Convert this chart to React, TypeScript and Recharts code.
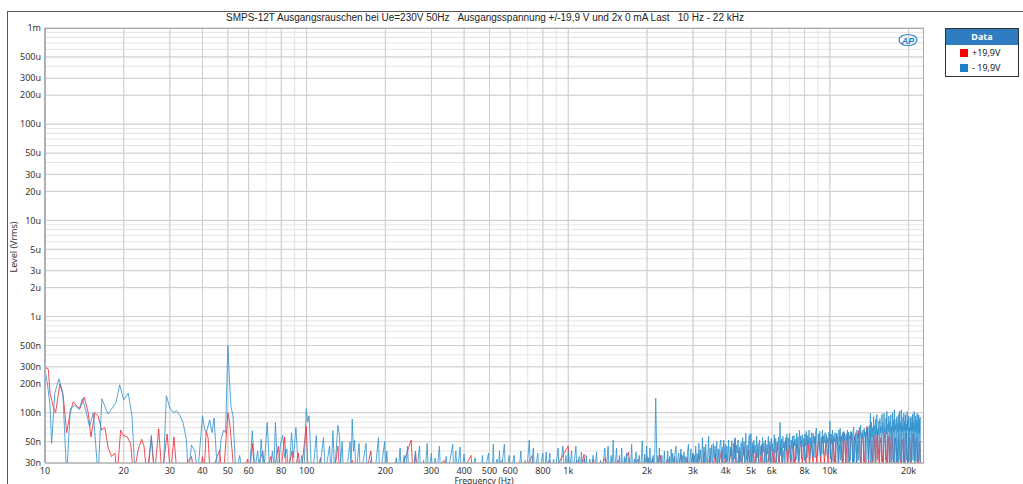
import { LineChart, Line, XAxis, YAxis, CartesianGrid } from "recharts";

// frequency (Hz), level (nV); values < 30 sit below the axis floor
const blueLow: [number, number][] = [
  [10.0, 280], [10.2, 205], [10.45, 120], [10.6, 48], [10.9, 160], [11.3, 225], [11.7, 160], [12.1, 22],
  [12.5, 110], [13.0, 120], [13.5, 108], [13.9, 140], [14.4, 100], [14.8, 72], [15.3, 100], [15.95, 22],
  [16.5, 140], [16.9, 118], [17.4, 97], [18.0, 110], [18.7, 128], [19.3, 195], [20.0, 136], [20.8, 160],
  [21.5, 93], [22.1, 22], [24.8, 24], [25.5, 58], [26.2, 24], [28.3, 22], [29.1, 150], [30.0, 112],
  [31.0, 100], [31.8, 105], [32.8, 93], [33.7, 79], [34.7, 53], [35.3, 22], [36.3, 46], [37.4, 40],
  [38.3, 22], [40.0, 93], [40.8, 66], [41.5, 64], [42.6, 84], [43.5, 62], [44.3, 88], [45.2, 35],
  [45.8, 22], [47.1, 53], [48.2, 66], [49.0, 62], [50.0, 500], [50.8, 200], [51.4, 115], [52.3, 93],
  [53.0, 45], [53.6, 22], [55.5, 36], [56.8, 22], [59.0, 28], [60.3, 22], [62.0, 65], [63.4, 26],
  [65.0, 40], [66.0, 22], [67.0, 53], [68.6, 24], [70.7, 79], [72.4, 22], [74.0, 40], [75.0, 28],
  [76.0, 79], [77.6, 22], [79.5, 48], [81.0, 58], [82.5, 34], [84.0, 42], [85.5, 22], [87.6, 62],
  [89.0, 34], [91.0, 70], [93.3, 22], [96.0, 36], [97.6, 22], [99.7, 110], [101.0, 80], [102.2, 93],
  [103.4, 45], [104.4, 22],
];

const blueMid: [number, number][] = [
  [106, 26], [108.9, 58], [110.5, 22], [113, 30], [116, 55], [118, 22], [120, 32], [122.4, 45], [124, 22],
  [126, 65], [128, 24], [131.7, 74], [133.5, 58], [135, 30], [136.7, 50], [138.5, 22], [143, 28],
  [146.6, 50], [147.8, 24], [149.4, 86], [151, 40], [152.5, 52], [154.5, 22], [158.7, 48], [160.5, 22],
  [164, 30], [168.7, 48], [170.5, 22], [176, 32], [178, 22], [183, 26], [188.3, 55], [190, 22], [194, 30],
  [198.7, 50], [200.5, 24], [202.6, 40], [205, 22], [212, 30], [215, 22], [220, 34], [223, 22],
  [227.7, 43], [230, 22], [236, 36], [239, 22], [243, 45], [246, 22], [252, 30], [255, 22], [260.5, 40],
  [263, 22], [270, 45], [273, 22], [280, 32], [283, 22], [289, 48], [292, 22], [300, 38], [303, 22],
  [310, 34], [314, 22], [321.9, 45], [325, 22], [331, 30], [335, 22], [341.6, 35], [345, 22], [361.7, 47],
  [365, 22], [372, 40], [376, 22], [386, 44], [390, 22], [400, 37], [404, 22], [420, 30], [424, 22],
  [441, 34], [446, 22], [458, 30], [463, 22], [470, 36], [475, 22], [496, 38], [501, 22], [508, 28],
  [512, 22], [517, 47], [522, 22], [534, 33], [540, 22], [546, 40], [552, 22], [570, 47], [576, 22],
  [595, 36], [601, 22], [621, 36], [628, 22], [640, 30], [647, 22], [659, 40], [666, 22], [685, 32],
  [692, 22], [710, 52], [718, 22], [736, 43], [744, 22], [765, 38], [773, 22], [800, 38], [808, 22],
  [824, 39], [832, 22], [850, 38], [858, 22], [880, 33], [888, 22], [915, 43], [924, 22], [955, 45],
  [965, 22], [980, 36], [990, 22], [1000, 40], [1010, 22], [1030, 40], [1040, 22], [1070, 45], [1081, 22],
  [1100, 35], [1111, 22], [1123, 39], [1135, 22], [1150, 33], [1162, 22], [1173, 36], [1186, 22],
  [1210, 33], [1223, 22], [1245, 36], [1258, 22], [1283, 39], [1297, 22], [1330, 32], [1344, 22],
  [1380, 43], [1395, 22], [1420, 45], [1435, 22], [1460, 36], [1472, 22], [1485, 52], [1500, 22],
  [1530, 43], [1546, 22], [1570, 36], [1585, 22], [1600, 43], [1617, 22], [1640, 35], [1655, 22],
  [1670, 38], [1688, 22], [1710, 34], [1728, 22], [1747, 47], [1765, 22], [1790, 33], [1802, 22],
  [1814, 39], [1833, 22], [1870, 36], [1890, 22], [1918, 51], [1938, 22], [1960, 37], [1975, 22],
  [1993, 45], [2013, 22], [2030, 34], [2040, 22], [2052, 43], [2075, 22], [2110, 36], [2135, 22],
  [2160, 142], [2185, 22], [2200, 36], [2215, 22], [2230, 43], [2255, 22], [2280, 36], [2305, 22],
  [2330, 40], [2355, 22], [2400, 40], [2425, 24],
];

const blueHigh: [number, number][] = [
  [2440, 35], [2455, 24], [2475, 42], [2490, 30], [2510, 38], [2530, 23], [2555, 36], [2580, 45],
  [2600, 25], [2625, 33], [2645, 38], [2660, 24], [2695, 42], [2715, 28], [2740, 36], [2755, 24],
  [2770, 39], [2790, 30], [2815, 35], [2835, 25], [2860, 40], [2880, 47], [2900, 26], [2925, 34],
  [2945, 42], [2965, 25], [2990, 38], [3010, 29], [3035, 36], [3050, 24],
  [3070, 45], [3090, 27], [3110, 38], [3130, 26], [3160, 48], [3180, 32], [3205, 41], [3225, 27],
  [3260, 55], [3280, 30], [3305, 44], [3325, 26], [3350, 47], [3375, 33], [3400, 28], [3440, 57],
  [3460, 29], [3485, 43], [3510, 31], [3535, 46], [3560, 26], [3585, 48], [3610, 34], [3640, 45],
  [3665, 27], [3695, 50], [3720, 28], [3745, 42], [3770, 30], [3800, 46], [3830, 52], [3855, 29],
  [3880, 44], [3905, 26], [3930, 52], [3960, 33], [3985, 47],
  [4010, 27], [4040, 45], [4070, 31], [4100, 52], [4130, 28], [4160, 44], [4190, 35], [4220, 51],
  [4250, 27], [4280, 48], [4310, 33], [4340, 55], [4370, 28], [4400, 46], [4430, 38], [4460, 52],
  [4490, 27], [4520, 44], [4550, 31], [4580, 49], [4610, 29], [4640, 55], [4670, 36], [4700, 50],
  [4730, 27], [4770, 61], [4800, 32], [4830, 46], [4860, 30], [4895, 50], [4925, 59], [4955, 28],
  [4990, 61], [5020, 33], [5055, 49], [5085, 28], [5120, 52], [5150, 38], [5185, 46], [5215, 27],
  [5250, 57], [5285, 34], [5320, 48], [5350, 29], [5385, 52], [5420, 36], [5455, 45], [5490, 27],
  [5530, 55], [5565, 39], [5600, 49], [5635, 30], [5670, 52], [5710, 28], [5745, 47], [5780, 37],
  [5820, 57], [5860, 31], [5895, 50], [5935, 28], [5970, 54], [6010, 40],
  [6050, 48], [6090, 29], [6130, 59], [6170, 38], [6210, 54], [6250, 30], [6290, 50], [6330, 41],
  [6370, 56], [6410, 31], [6450, 79], [6490, 36], [6530, 53], [6570, 29], [6610, 57], [6650, 43],
  [6690, 50], [6730, 30], [6770, 55], [6810, 40], [6850, 60], [6890, 31], [6930, 55], [6975, 44],
  [7020, 61], [7065, 32], [7110, 52], [7155, 42], [7200, 57], [7245, 30], [7290, 58], [7335, 45],
  [7380, 53], [7425, 32], [7470, 61], [7515, 43], [7560, 56], [7605, 31], [7650, 66], [7700, 46],
  [7745, 57], [7790, 33], [7840, 59], [7890, 44], [7940, 54],
  [7985, 32], [8030, 60], [8080, 45], [8130, 64], [8180, 34], [8230, 58], [8280, 47], [8330, 66],
  [8380, 33], [8430, 55], [8480, 46], [8530, 62], [8580, 35], [8630, 61], [8680, 48], [8730, 57],
  [8780, 34], [8830, 63], [8880, 69], [8930, 46], [8985, 36], [9040, 60], [9095, 48], [9150, 64],
  [9205, 35], [9260, 56], [9315, 47], [9370, 66], [9425, 37], [9480, 58], [9535, 49], [9590, 62],
  [9645, 36], [9700, 59], [9755, 48], [9810, 55], [9865, 37], [9920, 63], [9970, 50], [10000, 82],
  [10050, 33],
  [10110, 60], [10170, 47], [10230, 66], [10290, 31], [10350, 58], [10410, 50], [10470, 62], [10530, 30],
  [10590, 61], [10650, 49], [10710, 56], [10770, 29], [10830, 66], [10890, 51], [10950, 69], [11010, 32],
  [11070, 58], [11130, 50], [11190, 62], [11250, 29], [11310, 64], [11370, 52], [11430, 57], [11490, 31],
  [11550, 60], [11610, 51], [11670, 66], [11730, 29], [11790, 63], [11850, 53], [11910, 58], [11970, 32],
  [12030, 64], [12090, 52], [12150, 60], [12210, 30], [12270, 66], [12330, 71], [12390, 31], [12450, 57],
  [12510, 53], [12570, 62], [12630, 29], [12690, 66], [12760, 54], [12830, 60], [12900, 32], [12970, 70],
  [13040, 56], [13110, 74], [13180, 30], [13250, 62], [13320, 55], [13390, 66], [13460, 31], [13530, 69],
  [13600, 57], [13670, 63], [13740, 29], [13810, 68], [13880, 58], [13950, 71], [14020, 32], [14090, 64],
  [14160, 74], [14230, 50], [14290, 99], [14350, 30],
  [14420, 80], [14490, 56], [14560, 70], [14630, 31], [14700, 91], [14770, 58], [14840, 74], [14910, 29],
  [14980, 85], [15050, 60], [15120, 95], [15190, 32], [15260, 68], [15330, 59], [15400, 82], [15470, 30],
  [15540, 87], [15610, 62], [15680, 72], [15750, 31], [15820, 96], [15890, 61], [15960, 78], [16030, 29],
  [16100, 99], [16170, 63], [16240, 70], [16310, 32], [16380, 88], [16450, 60], [16520, 103], [16590, 30],
  [16660, 76], [16730, 64], [16800, 92], [16870, 31], [16940, 81], [17010, 62], [17080, 95], [17150, 29],
  [17220, 72], [17290, 65], [17360, 100], [17430, 32], [17500, 84], [17570, 63], [17640, 107], [17710, 30],
  [17780, 75], [17850, 66], [17920, 86], [17990, 31], [18060, 91], [18130, 62], [18200, 78], [18270, 29],
  [18340, 97], [18410, 64], [18480, 104], [18550, 32], [18620, 80], [18690, 66], [18760, 107], [18830, 30],
  [18900, 74], [18970, 63], [19040, 90], [19110, 31], [19180, 99], [19250, 65], [19320, 82], [19390, 29],
  [19460, 95], [19530, 64], [19600, 76], [19670, 32], [19740, 103], [19810, 66], [19880, 85], [19950, 30],
  [20020, 92], [20090, 63], [20160, 70], [20230, 31], [20300, 88], [20370, 65], [20440, 91], [20510, 29],
  [20580, 78], [20650, 64], [20720, 97], [20790, 32], [20860, 80], [20930, 66], [21000, 103], [21070, 30],
  [21140, 74], [21210, 63], [21280, 92], [21350, 31], [21420, 84], [21490, 65], [21560, 99], [21630, 29],
  [21700, 78], [21770, 62], [21840, 95], [21910, 32], [21980, 85], [22050, 60], [22120, 90], [22180, 30],
  [22230, 22],
];

const redLow: [number, number][] = [
  [10.0, 290], [10.2, 292], [10.3, 280], [10.45, 160], [10.76, 115], [10.98, 100], [11.4, 200],
  [11.74, 150], [12.1, 62], [12.46, 97], [12.82, 130], [13.21, 118], [13.6, 110], [14.13, 145],
  [14.63, 100], [14.98, 56], [15.52, 100], [15.97, 92], [16.46, 66], [16.94, 70], [17.44, 43],
  [17.97, 35], [18.5, 38], [18.88, 22], [19.46, 66], [19.9, 58], [20.62, 56], [21.24, 48], [21.8, 22],
  [22.7, 41], [23.4, 53], [23.9, 45], [24.5, 22], [25.5, 55], [26.2, 22], [27.2, 68], [28.0, 22],
  [29.3, 60], [30.2, 22], [31.1, 56], [32.0, 22], [36.3, 35], [37.2, 22], [39.2, 24], [40.0, 35],
  [40.6, 24], [41.3, 65], [42.0, 55], [42.8, 22], [46.5, 41], [47.3, 24], [48.5, 30], [50.0, 100],
  [50.8, 80], [52.0, 38], [52.8, 22], [57, 22], [59.5, 33], [60.5, 22], [62, 48], [63.5, 22], [68, 40],
  [69.5, 22], [73, 35], [74.5, 22], [78, 45], [79.5, 22], [82.4, 56], [84, 22], [88, 40], [89.5, 22],
  [93, 38], [95, 22], [99.7, 72], [101.5, 22],
];

const redMid: [number, number][] = [
  [104, 22], [107, 28], [109, 22], [113, 34], [115, 22], [124, 28], [127, 22], [131.7, 45], [134, 22],
  [150, 32], [152, 22], [165, 28], [168, 22], [176, 40], [179, 22], [200, 30], [203, 22], [222, 30],
  [226, 22], [251, 52], [255, 22], [261, 38], [265, 22], [290, 30], [295, 22], [335, 32], [340, 22],
  [380, 30], [386, 22], [425, 36], [431, 22], [480, 30], [487, 22], [560, 32], [568, 22], [650, 30],
  [660, 22], [730, 36], [740, 22], [850, 32], [862, 22], [1000, 45], [1014, 22], [1080, 32], [1095, 22],
  [1150, 37], [1166, 22], [1250, 33], [1268, 22], [1390, 34], [1410, 22], [1550, 32], [1572, 22],
  [1700, 39], [1725, 22], [1850, 33], [1877, 22], [2000, 35], [2030, 22], [2100, 34], [2130, 22],
  [2250, 36], [2283, 22], [2400, 33], [2435, 22],
];

const redHigh: [number, number][] = [
  [2550, 35], [2590, 22], [2700, 37], [2740, 22], [2850, 34], [2890, 22], [3000, 38], [3040, 22],
  [3150, 36], [3200, 22], [3320, 39], [3370, 22], [3480, 35], [3530, 22], [3650, 38], [3700, 22],
  [3850, 40], [3900, 22], [4000, 37], [4060, 22], [4200, 42], [4260, 22], [4340, 53], [4400, 24],
  [4500, 40], [4560, 24], [4700, 44], [4770, 24], [4900, 41], [4970, 24],
  [5050, 38], [5100, 45], [5170, 25], [5240, 36], [5300, 42], [5380, 25], [5440, 35], [5500, 47],
  [5580, 25], [5640, 38], [5700, 43], [5780, 26], [5840, 36], [5900, 46], [5980, 26], [6040, 39],
  [6100, 42], [6180, 26], [6240, 37], [6300, 48], [6390, 27], [6440, 40], [6500, 45], [6590, 27],
  [6650, 38], [6720, 44], [6800, 52], [6890, 27], [6950, 39], [7000, 46], [7100, 28], [7170, 41],
  [7250, 49], [7350, 28], [7420, 40], [7500, 47], [7600, 28], [7680, 44], [7750, 51], [7850, 29],
  [7920, 42], [8000, 48], [8100, 29], [8180, 45], [8250, 53], [8360, 29], [8430, 41], [8500, 50],
  [8620, 29], [8700, 46], [8800, 55], [8920, 30], [9000, 44], [9100, 51], [9230, 30], [9310, 47],
  [9400, 56], [9530, 30], [9610, 43], [9700, 52], [9840, 30], [9920, 48], [10000, 58], [10150, 30],
  [10230, 46], [10300, 54], [10450, 28], [10550, 50], [10650, 60], [10800, 28], [10900, 47], [11000, 55],
  [11160, 28], [11250, 52], [11350, 62], [11520, 28], [11610, 49], [11700, 57], [11880, 28], [11990, 53],
  [12100, 63], [12280, 28], [12390, 50], [12500, 58], [12690, 28], [12800, 54], [12900, 65], [13100, 28],
  [13220, 51], [13350, 60], [13550, 28], [13700, 56], [13870, 72], [14080, 28], [14190, 53], [14300, 62],
  [14520, 28], [14640, 50], [14750, 58], [14980, 28], [15090, 55], [15200, 64], [15440, 28], [15570, 49],
  [15700, 55], [15950, 28], [16080, 53], [16200, 62], [16450, 28], [16580, 50], [16700, 57], [16960, 28],
  [17100, 54], [17250, 64], [17500, 28], [17650, 48], [17800, 55], [18070, 28], [18210, 52], [18350, 60],
  [18640, 28], [18800, 47], [18950, 53], [19250, 28], [19400, 54], [19550, 61], [19850, 28], [20000, 50],
  [20150, 56], [20460, 28], [20630, 52], [20800, 60], [21100, 28], [21280, 48], [21450, 54], [21800, 28],
  [21950, 46], [22100, 50], [22200, 22],
];

const xTicks = [10, 20, 30, 40, 50, 60, 80, 100, 200, 300, 400, 500, 600, 800, 1000, 2000, 3000, 4000, 5000, 6000, 8000, 10000, 20000];
const yTicks = [3e-8, 5e-8, 1e-7, 2e-7, 3e-7, 5e-7, 1e-6, 2e-6, 3e-6, 5e-6, 1e-5, 2e-5, 3e-5, 5e-5, 1e-4, 2e-4, 3e-4, 5e-4, 1e-3];

const mults = [1, 2, 3, 4, 5, 6, 7, 8, 9];
const xGrid = [10, 100, 1000].flatMap((d) => mults.map((m) => m * d)).concat([10000, 20000]);
const yGrid = [1e-8, 1e-7, 1e-6, 1e-5, 1e-4]
  .flatMap((d) => mults.map((m) => m * d))
  .filter((v) => v >= 2.9e-8)
  .concat([1e-3]);

const toPoints = (rows: [number, number][]) => rows.map(([f, nv]) => ({ f, v: nv * 1e-9 }));
const blueData = toPoints([...blueLow, ...blueMid, ...blueHigh]);
const redData = toPoints([...redLow, ...redMid, ...redHigh]);

const fmtX = (f: number) => (f >= 1000 ? `${f / 1000}k` : `${f}`);
const fmtY = (v: number) => {
  if (v >= 9.9e-4) return `${Math.round(v * 1e3)}m`;
  if (v >= 9.9e-7) return `${Math.round(v * 1e6)}u`;
  return `${Math.round(v * 1e9)}n`;
};

const tickStyle = { fontSize: 9, fill: "#333", fontFamily: "Noto Sans, sans-serif" };

export default function App() {
  return (
    <div style={{ position: "absolute", left: 0, top: 0, width: 1023, height: 484, background: "#fff", overflow: "hidden", fontFamily: "Liberation Sans, Arial, sans-serif" }}>
      <div style={{ position: "absolute", left: 7, top: 11, width: 1030, height: 480, borderTop: "1px solid #555", borderLeft: "1px solid #555" }} />
      <div style={{ position: "absolute", left: 0, width: 970, top: 12, textAlign: "center", fontSize: 10, color: "#222", whiteSpace: "pre" }}>
        {"SMPS-12T Ausgangsrauschen bei Ue=230V 50Hz   Ausgangsspannung +/-19,9 V und 2x 0 mA Last   10 Hz - 22 kHz"}
      </div>

      <LineChart width={1023} height={484} margin={{ top: 28, right: 99, bottom: 0, left: 5 }} style={{ position: "absolute", left: 0, top: 0 }}>
        <CartesianGrid horizontalValues={yGrid} verticalValues={xGrid} stroke="#e4e4e4" />
        <CartesianGrid horizontalValues={yTicks} verticalValues={xTicks} stroke="#cfcfcf" />
        <XAxis
          dataKey="f"
          type="number"
          scale="log"
          domain={[10, 22900]}
          allowDataOverflow
          ticks={xTicks}
          interval={0}
          tickFormatter={fmtX}
          tick={tickStyle}
          tickLine={false}
          tickSize={4}
          tickMargin={1}
          height={21}
          axisLine={{ stroke: "#a8a8a8" }}
        />
        <YAxis
          type="number"
          scale="log"
          domain={[3e-8, 1e-3]}
          allowDataOverflow
          ticks={yTicks}
          interval={0}
          tickFormatter={fmtY}
          tick={tickStyle}
          tickLine={false}
          tickSize={4}
          tickMargin={0}
          width={40}
          axisLine={{ stroke: "#b0b0b0", strokeWidth: 2 }}
        />
        <Line data={redData} dataKey="v" stroke="#ec2f3c" strokeOpacity={0.85} strokeWidth={1} dot={false} isAnimationActive={false} />
        <Line data={blueData} dataKey="v" stroke="#2f93cf" strokeOpacity={0.82} strokeWidth={1} dot={false} isAnimationActive={false} />
      </LineChart>

      <div style={{ position: "absolute", left: 45, top: 28, width: 878, height: 434, borderTop: "1px solid #a8a8a8", borderRight: "1px solid #a8a8a8", pointerEvents: "none" }} />

      <svg width={22} height={14} style={{ position: "absolute", left: 897, top: 33 }}>
        <ellipse cx={11} cy={7} rx={9} ry={5.5} fill="none" stroke="#2a7fc6" strokeWidth={1.2} />
        <text x={11} y={10.5} textAnchor="middle" fontSize={9} fontWeight="bold" fontStyle="italic" fill="#2a7fc6" fontFamily="Liberation Sans, Arial">AP</text>
      </svg>

      <div style={{ position: "absolute", left: 13, top: 247, width: 0, height: 0 }}>
        <div style={{ position: "absolute", transform: "translate(-50%, -50%) rotate(-90deg)", fontSize: 9, color: "#333", whiteSpace: "nowrap", fontFamily: "Noto Sans, sans-serif" }}>
          Level (Vrms)
        </div>
      </div>
      <div style={{ position: "absolute", left: 384, width: 200, top: 476, textAlign: "center", fontSize: 8.5, color: "#333", lineHeight: "9px", fontFamily: "Noto Sans, sans-serif" }}>
        Frequency (Hz)
      </div>

      <div style={{ position: "absolute", left: 945, top: 28, width: 72, height: 47, border: "1px solid #333", background: "#fff", fontFamily: "Noto Sans, sans-serif", fontSize: 9, color: "#222" }}>
        <div style={{ background: "#2f7dc1", color: "#fff", fontWeight: "bold", textAlign: "center", height: 16, lineHeight: "16px" }}>Data</div>
        <div style={{ display: "flex", alignItems: "center", height: 15, paddingLeft: 14 }}>
          <span style={{ width: 8, height: 8, background: "#ff0000", marginRight: 4 }} />+19,9V
        </div>
        <div style={{ display: "flex", alignItems: "center", height: 15, paddingLeft: 14 }}>
          <span style={{ width: 8, height: 8, background: "#1e7ec8", marginRight: 4 }} />- 19,9V
        </div>
      </div>
    </div>
  );
}
